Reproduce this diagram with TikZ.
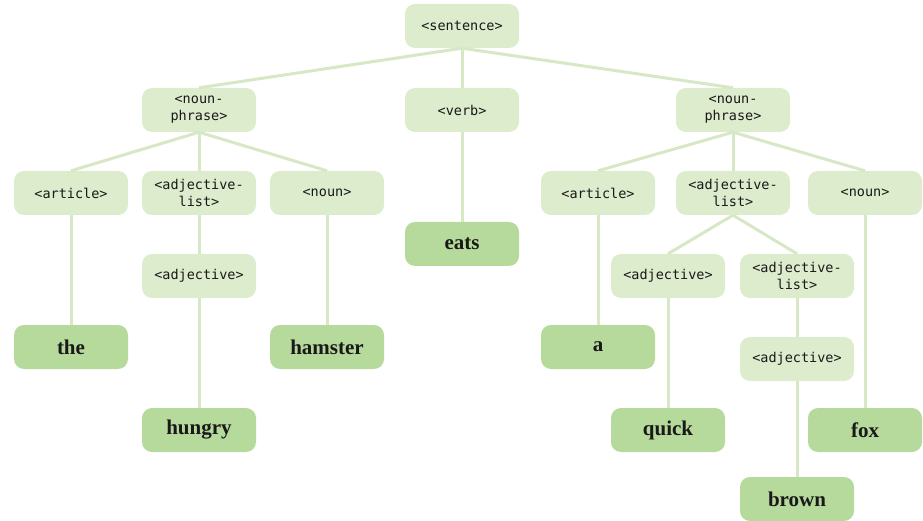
\documentclass[tikz,border=0pt]{standalone}
\usepackage{fontspec}
\setmainfont{Liberation Serif}
\setmonofont{DejaVu Sans Mono}
\definecolor{inner}{RGB}{220,236,204}
\definecolor{leaf}{RGB}{182,218,155}
\definecolor{edge}{RGB}{214,232,198}
\begin{document}
\begin{tikzpicture}[x=1pt,y=-1pt,
  inbox/.style={fill=inner,rounded corners=10pt,minimum width=114pt,minimum height=44pt,
    inner sep=0pt,align=center,font=\ttfamily\fontsize{13.5}{17}\selectfont,text=black!90},
  leafbox/.style={fill=leaf,rounded corners=10pt,minimum width=114pt,minimum height=44pt,
    inner sep=0pt,font=\bfseries\fontsize{21}{24}\selectfont,text=black!90},
  conn/.style={draw=edge,line width=3pt}]
\useasboundingbox (0,0) rectangle (923,521);
\node[inbox] (s) at (462,26) {<sentence>};
\node[inbox] (np1) at (199,110) {<noun-\\phrase>};
\node[inbox] (v) at (462,110) {<verb>};
\node[inbox] (np2) at (733,110) {<noun-\\phrase>};
\node[inbox] (art1) at (71,193) {<article>};
\node[inbox] (al1) at (199,193) {<adjective-\\list>};
\node[inbox] (n1) at (327,193) {<noun>};
\node[inbox] (art2) at (598,193) {<article>};
\node[inbox] (al2) at (733,193) {<adjective-\\list>};
\node[inbox] (n2) at (865,193) {<noun>};
\node[leafbox] (eats) at (462,244) {eats};
\node[inbox] (adj1) at (199,276) {<adjective>};
\node[inbox] (adj2) at (668,276) {<adjective>};
\node[inbox] (al3) at (797,276) {<adjective-\\list>};
\node[inbox] (adj3) at (797,359) {<adjective>};
\node[leafbox] (the) at (71,347) {the};
\node[leafbox] (hamster) at (327,347) {hamster};
\node[leafbox] (a) at (598,347) {a};
\node[leafbox] (hungry) at (199,430) {hungry};
\node[leafbox] (quick) at (668,430) {quick};
\node[leafbox] (fox) at (865,430) {fox};
\node[leafbox] (brown) at (797,499) {brown};
\foreach \p/\c in {s/np1,s/v,s/np2,np1/art1,np1/al1,np1/n1,np2/art2,np2/al2,np2/n2,
  v/eats,al1/adj1,art1/the,n1/hamster,art2/a,adj1/hungry,al2/adj2,al2/al3,al3/adj3,
  adj2/quick,n2/fox,adj3/brown}
  \draw[conn] (\p.south) -- (\c.north);
\end{tikzpicture}
\end{document}
